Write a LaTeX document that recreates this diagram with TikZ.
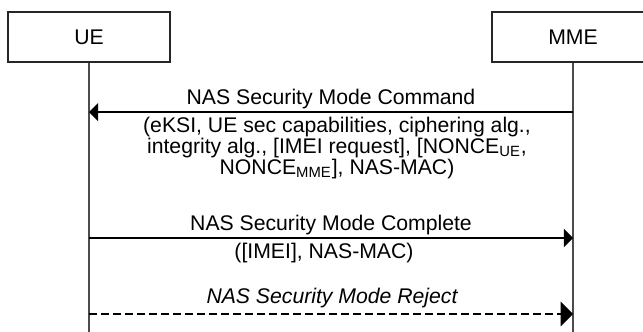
\documentclass[tikz,border=0pt]{standalone}
\usepackage{fontspec}
\setmainfont{Liberation Sans}
\usetikzlibrary{arrows}
\tikzset{
  entity/.style={draw=black!85, line width=0.7pt, minimum width=81pt, minimum height=25pt, inner sep=0pt, font=\fontsize{10.6}{10.5}\selectfont},
  lifeline/.style={draw=black!70, line width=0.8pt},
  msg/.style={line width=0.6pt, -triangle 90},
  msgtext/.style={inner sep=0pt, align=center, font=\fontsize{10.6}{10.5}\selectfont}
}
\begin{document}
\begin{tikzpicture}[x=0.5pt,y=-0.5pt]
        \useasboundingbox (0,0) rectangle (643,332);
        \node[entity] (ue) at (89,37) {UE};
        \node[entity] (mme) at (573,37) {MME};
        \coordinate (ue-end) at (89,332);
        \coordinate (mme-end) at (573,332);
        \draw[lifeline] (ue) -- (ue-end);
        \draw[lifeline] (mme) -- (mme-end);
        % security mode command
        \coordinate (cmd-a) at (mme.south |- 0,112);
        \coordinate (cmd-b) at (ue.south |- 0,112);
        \draw[msg] (cmd-a) -- (cmd-b);
        \node[msgtext] (cmd-lbl) at (331,99) {NAS Security Mode Command};
        \node[msgtext] (cmd-par) at (337,148) {(eKSI, UE sec capabilities, ciphering alg.,\\integrity alg., [IMEI request], [NONCE\textsubscript{UE},\\NONCE\textsubscript{MME}], NAS-MAC)};
        % security mode complete
        \coordinate (cpl-a) at (ue.south |- 0,238);
        \coordinate (cpl-b) at (mme.south |- 0,238);
        \draw[msg] (cpl-a) -- (cpl-b);
        \node[msgtext] (cpl-lbl) at (331,225) {NAS Security Mode Complete};
        \node[msgtext] (cpl-par) at (324,253) {([IMEI], NAS-MAC)};
        % security mode reject
        \coordinate (rej-a) at (ue.south |- 0,314);
        \coordinate (rej-b) at (mme.south |- 0,314);
        \draw[msg, line width=1.2pt, dash pattern=on 4pt off 2pt] (rej-a) -- (rej-b);
        \node[msgtext] (rej-lbl) at (332,298) {\itshape NAS Security Mode Reject};
\end{tikzpicture}
\end{document}
